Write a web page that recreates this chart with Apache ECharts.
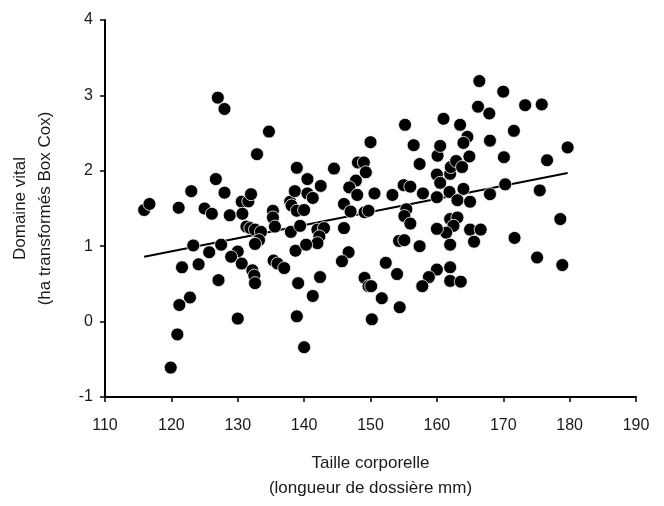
<!DOCTYPE html>
<html>
<head>
<meta charset="utf-8">
<script src="https://cdn.jsdelivr.net/npm/echarts@6/dist/echarts.min.js"></script>
<style>
html,body{margin:0;padding:0;background:#fff;}
#chart{width:664px;height:506px;}
</style>
</head>
<body>
<div id="chart"></div>
<script>
const xTitle = "Taille corporelle\n(longueur de dossière mm)";
const yTitle = "Domaine vital\n(ha transformés Box Cox)";

const xValues = [
115.9,116.7,121.1,123.0,125.0,126.1,126.7,127.0,128.0,128.0,
128.8,130.6,131.6,132.0,130.7,132.9,134.7,135.3,135.3,135.6,
137.9,138.1,138.6,138.9,138.9,131.3,131.9,132.6,133.5,133.2,
132.6,138.0,139.4,123.3,127.5,125.7,130.0,129.0,130.6,121.6,
124.1,135.4,136.0,137.0,138.7,132.2,132.5,132.6,127.1,139.1,
122.8,121.2,130.0,138.9,120.9,140.0,119.9,140.0,140.5,142.5,
140.5,141.3,144.5,146.0,147.0,149.1,149.7,147.8,146.8,148.0,
148.1,149.0,149.3,150.0,150.6,153.3,155.2,156.5,155.0,156.0,
155.4,155.1,156.0,157.4,157.9,160.1,160.5,160.0,160.5,160.0,
161.0,161.9,162.0,162.1,162.9,163.5,163.8,164.6,164.0,164.9,
164.0,163.1,165.0,166.2,166.4,167.9,168.0,168.0,162.0,163.1,
162.5,161.4,160.0,165.0,166.6,165.6,162.0,157.4,154.3,155.1,
146.0,142.0,143.0,142.3,142.0,140.3,146.7,145.7,152.3,154.0,
149.1,149.7,150.1,151.7,154.4,150.2,142.4,141.3,160.0,158.8,
157.8,162.0,162.0,163.6,170.0,173.3,175.8,171.6,179.7,170.1,
176.6,170.3,175.5,178.6,171.7,175.1,178.9
];
const yValues = [
1.48,1.56,1.51,1.73,1.50,1.43,1.89,2.97,2.82,1.71,
1.41,1.59,1.595,1.69,1.43,2.22,2.52,1.47,1.38,1.26,
1.59,1.54,1.73,2.04,1.47,1.26,1.24,1.22,1.19,1.08,
1.03,1.19,1.27,1.01,1.02,0.92,0.93,0.86,0.77,0.72,
0.76,0.81,0.77,0.71,0.94,0.68,0.61,0.51,0.55,0.51,
0.32,0.22,0.04,0.07,-0.17,-0.34,-0.61,1.48,1.89,1.80,
1.70,1.64,2.03,1.56,1.46,1.45,1.47,1.87,1.78,1.68,
2.11,2.11,1.98,2.38,1.70,1.68,2.61,2.34,1.81,1.79,
1.49,1.40,1.30,2.09,1.70,2.20,2.33,1.95,1.84,1.65,
2.69,1.72,1.96,2.05,2.13,2.61,2.05,2.45,2.37,2.19,
1.76,1.61,1.59,2.85,3.19,2.76,2.40,1.69,1.36,1.38,
1.27,1.18,1.23,1.22,1.22,1.06,1.02,1.00,1.07,1.08,
1.24,1.22,1.24,1.13,1.04,1.02,0.92,0.80,0.78,0.63,
0.58,0.47,0.47,0.31,0.19,0.03,0.59,0.34,0.69,0.59,
0.47,0.72,0.54,0.53,3.05,2.87,2.88,2.53,2.31,2.18,
2.14,1.82,1.74,1.36,1.11,0.85,0.75
];
const fitX = [115.9, 179.7];
const fitY = [0.86, 1.97];

const chart = echarts.init(document.getElementById('chart'), null, {renderer: 'canvas'});
const FONT = '"Liberation Sans", Arial, Helvetica, sans-serif';

chart.setOption({
  animation: false,
  backgroundColor: '#ffffff',
  grid: {left: 104, right: 28, top: 20, bottom: 103.5, containLabel: false},
  xAxis: {
    type: 'value', min: 110, max: 190, interval: 10,
    name: xTitle, nameLocation: 'middle', nameGap: 54,
    nameTextStyle: {fontFamily: FONT, fontSize: 17, color: '#1a1a1a', lineHeight: 25},
    axisLine: {show: true, onZero: false, lineStyle: {color: '#000', width: 2}},
    axisTick: {show: true, inside: false, length: 5, lineStyle: {color: '#000', width: 1.5}},
    axisLabel: {fontFamily: FONT, fontSize: 16, color: '#1a1a1a', margin: 21},
    splitLine: {show: false}
  },
  yAxis: {
    type: 'value', min: -1, max: 4, interval: 1,
    name: yTitle, nameLocation: 'middle', nameGap: 47, nameRotate: 90,
    nameTextStyle: {fontFamily: FONT, fontSize: 17, color: '#1a1a1a', lineHeight: 25},
    axisLine: {show: true, onZero: false, lineStyle: {color: '#000', width: 2}},
    axisTick: {show: true, inside: false, length: 5, lineStyle: {color: '#000', width: 1.5}},
    axisLabel: {fontFamily: FONT, fontSize: 16, color: '#1a1a1a', margin: 12},
    splitLine: {show: false}
  },
  series: [
    {
      type: 'line',
      data: fitX.map((x, i) => [x, fitY[i]]),
      symbol: 'none',
      lineStyle: {color: '#000', width: 2},
      z: 2
    },
    {
      type: 'scatter',
      data: xValues.map((x, i) => [x, yValues[i]]),
      symbol: 'circle',
      symbolSize: 13,
      itemStyle: {color: '#000', borderColor: '#fff', borderWidth: 0.8, opacity: 1},
      z: 3
    }
  ]
});
</script>
</body>
</html>
